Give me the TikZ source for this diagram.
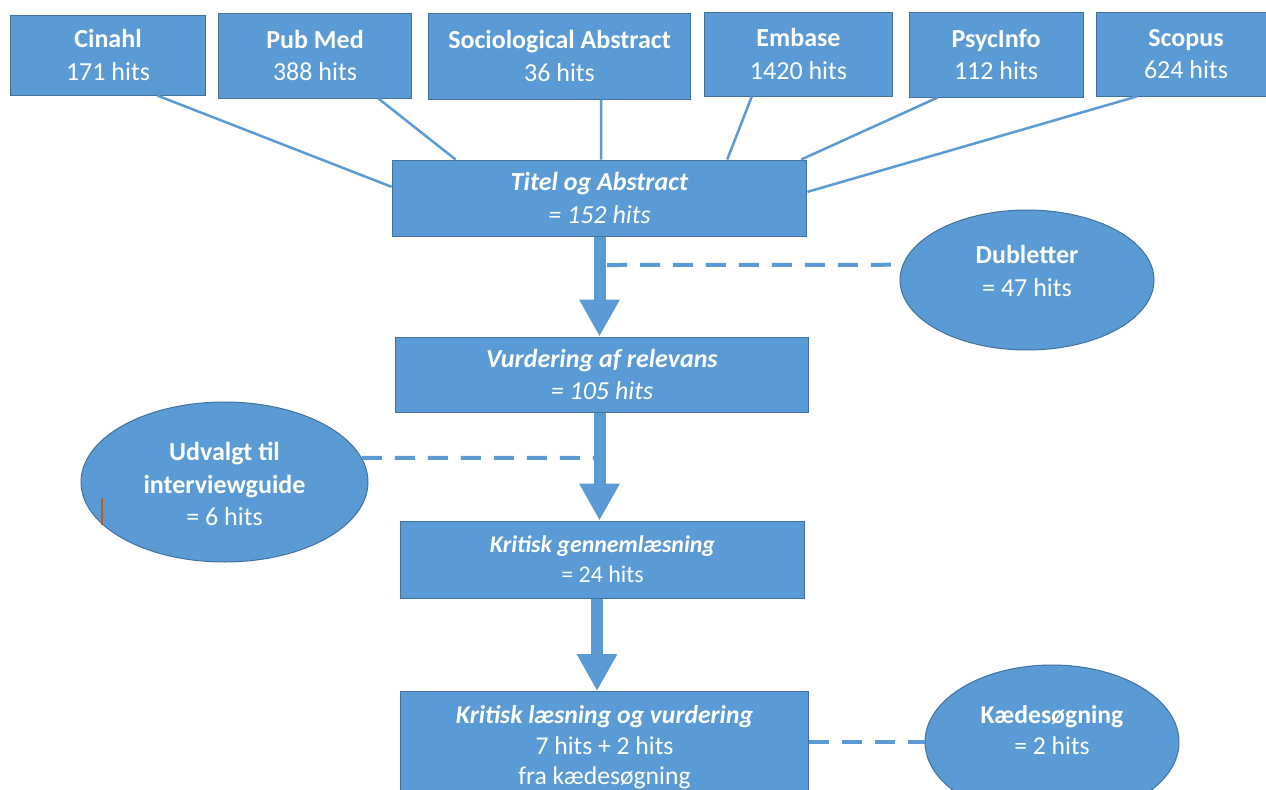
\documentclass[tikz,border=0pt]{standalone}
\usepackage{fontspec}
\setmainfont{Carlito}
\usetikzlibrary{arrows.meta,shapes.geometric,calc}
\definecolor{ofill}{HTML}{5B9BD5}
\definecolor{oline}{HTML}{41719C}
\definecolor{cursorcol}{HTML}{C55A11}
\tikzset{
  box/.style={draw=oline, line width=0.02cm, fill=ofill, text=white, align=center, inner sep=0pt, font=\fontsize{14.8}{18.7}\selectfont},
  kgtext/.style={font=\fontsize{13.6}{17}\selectfont},
  kltext/.style={font=\fontsize{14.6}{17.3}\selectfont},
  oval/.style={ellipse, draw=oline, line width=0.02cm, fill=ofill, inner sep=0pt},
  ovaltext/.style={text=white, align=center, inner sep=0pt, font=\fontsize{14.8}{18.7}\selectfont},
  feed/.style={draw=ofill, line width=0.05cm},
  bigarrow/.style={draw=ofill, fill=ofill, line width=0.24cm, -{Triangle[width=0.76cm,length=0.74cm]}},
  dashline/.style={draw=ofill, line width=0.08cm, dash pattern=on 0.4cm off 0.26cm},
}
\begin{document}
\begin{tikzpicture}[x=0.02cm,y=-0.02cm]
\useasboundingbox (0,0) rectangle (1266,789);
\clip (0,0) rectangle (1266,789);
\fill[white] (0,0) rectangle (1266,789);

% database boxes
\node[box, minimum width=3.92cm, minimum height=1.6cm] (cin) at (108,55) {\textbf{Cinahl}\\171 hits};
\node[box, minimum width=3.88cm, minimum height=1.7cm] (pub) at (315,55.5) {\textbf{Pub Med}\\388 hits};
\node[box, minimum width=5.26cm, minimum height=1.72cm] (soc) at (559.5,56) {\textbf{Sociological Abstract}\\36 hits};
\node[box, minimum width=3.78cm, minimum height=1.68cm] (emb) at (798.5,54) {\textbf{Embase}\\1420 hits};
\node[box, minimum width=3.48cm, minimum height=1.7cm] (psy) at (996,54.5) {\textbf{PsycInfo}\\112 hits};
\node[box, minimum width=3.6cm, minimum height=1.68cm] (sco) at (1186,54) {\textbf{Scopus}\\624 hits};

% flow boxes
\node[box, minimum width=8.3cm, minimum height=1.52cm] (tit) at (599.5,198) {\textbf{\textit{Titel og Abstract}}\\\textit{= 152 hits}};
\node[box, minimum width=8.28cm, minimum height=1.5cm] (vur) at (602,374.5) {\textbf{\textit{Vurdering af relevans}}\\\textit{= 105 hits}};
\node[box, kgtext, minimum width=8.1cm, minimum height=1.54cm] (kg) at (602.5,559.5) {\textbf{\textit{Kritisk gennemlæsning}}\\= 24 hits};
\node[box, kltext, minimum width=8.18cm, minimum height=2.24cm] (kl) at (604.5,747.5) {\textbf{\textit{Kritisk læsning og vurdering}}\\7 hits + 2 hits\\fra kædesøgning};

% ellipses
\node[oval, minimum width=5.08cm, minimum height=2.8cm] (dub) at (1027,280) {};
\node[ovaltext] (dubt) at (1027,271) {\textbf{Dubletter}\\= 47 hits};
\node[oval, minimum width=5.74cm, minimum height=3.2cm] (udv) at (224.5,482) {};
\node[ovaltext] (udvt) at (224.5,484) {\textbf{Udvalgt til}\\\textbf{interviewguide}\\= 6 hits};
\node[oval, minimum width=5.08cm, minimum height=3.08cm] (kae) at (1052,742) {};
\node[ovaltext, kltext] (kaet) at (1052,730) {\textbf{Kædesøgning}\\= 2 hits};

% feeder lines
\draw[feed] ($(cin.south west)!0.75!(cin.south east)$) -- ($(tit.north west)!0.355!(tit.south west)$);
\draw[feed] ($(pub.south west)!0.825!(pub.south east)$) -- ($(tit.north west)!0.154!(tit.north east)$);
\draw[feed] ($(soc.south west)!0.658!(soc.south east)$) -- ($(tit.north west)!0.504!(tit.north east)$);
\draw[feed] ($(emb.south west)!0.254!(emb.south east)$) -- ($(tit.north west)!0.807!(tit.north east)$);
\draw[feed] ($(psy.south west)!0.167!(psy.south east)$) -- ($(tit.north west)!0.985!(tit.north east)$);
\draw[feed] ($(sco.south west)!0.228!(sco.south east)$) -- ($(tit.north east)!0.42!(tit.south east)$);

% block arrows
\draw[bigarrow] (tit.south) -- (tit.south |- vur.north);
\draw[bigarrow] ([xshift=-0.05cm]vur.south) -- ([xshift=-0.05cm]vur.south |- kg.north);
\draw[bigarrow] ([xshift=-0.11cm]kg.south) -- ([xshift=-0.11cm]kg.south |- kl.north);

% dashed connectors
\coordinate (d1) at (607,265);
\draw[dashline] (d1) -- (dub.173);
\coordinate (d2) at (596,458);
\draw[dashline] (udv.10) -- (d2);
\draw[dashline] (kl.east |- kae.west) -- (kae.west);

% text cursor mark
\draw[cursorcol, line width=0.03cm] (102,498) -- (102,525);
\end{tikzpicture}
\end{document}
